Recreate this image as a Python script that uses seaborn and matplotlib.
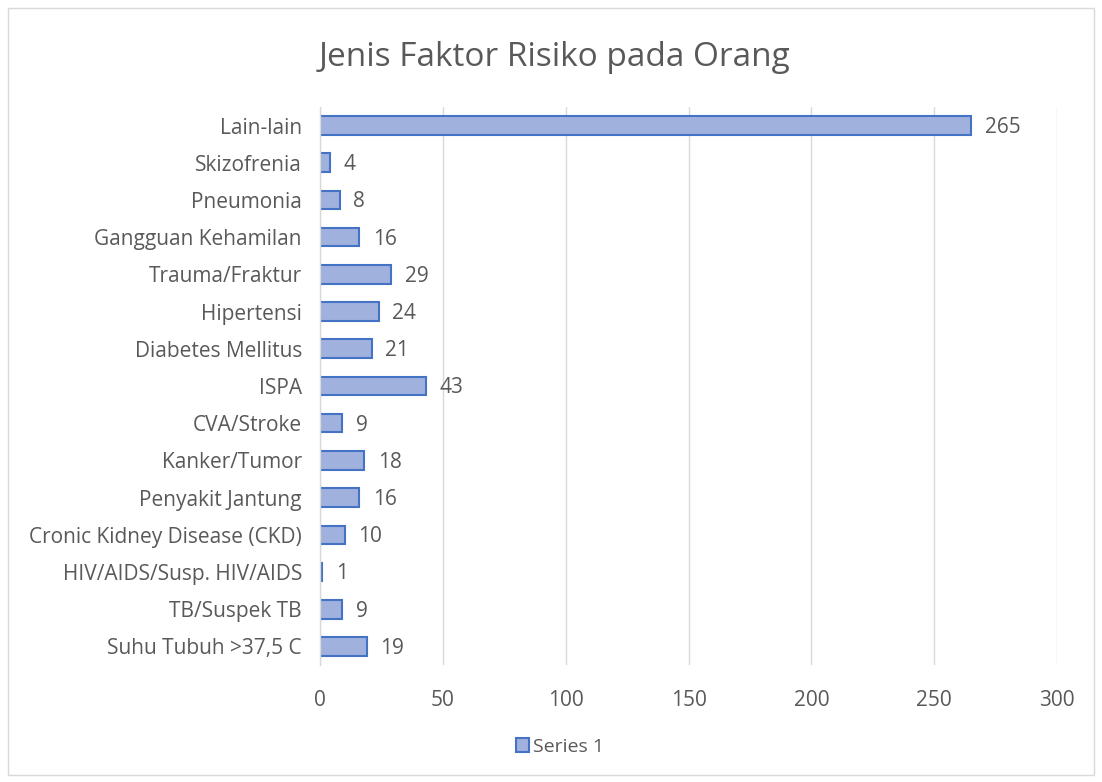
import pandas as pd
import seaborn as sns
import matplotlib.pyplot as plt
from matplotlib.patches import Rectangle, Patch

categories = ["Lain-lain", "Skizofrenia", "Pneumonia", "Gangguan Kehamilan",
              "Trauma/Fraktur", "Hipertensi", "Diabetes Mellitus", "ISPA",
              "CVA/Stroke", "Kanker/Tumor", "Penyakit Jantung",
              "Cronic Kidney Disease (CKD)", "HIV/AIDS/Susp. HIV/AIDS",
              "TB/Suspek TB", "Suhu Tubuh >37,5 C"]
values = [265, 4, 8, 16, 29, 24, 21, 43, 9, 18, 16, 10, 1, 9, 19]
xticks = [0, 50, 100, 150, 200, 250, 300]

df = pd.DataFrame({"kategori": categories, "jumlah": values})

sns.set_style("white")
plt.rcParams["font.family"] = ["Open Sans", "DejaVu Sans"]
text_color = "#595959"

fig = plt.figure(figsize=(11.02, 7.82), dpi=100)
ax = fig.add_axes([0.2904, 0.1496, 0.6688, 0.7136])

sns.barplot(data=df, x="jumlah", y="kategori", order=categories, orient="h",
            color="#A0B1DE", edgecolor="#4472C4", linewidth=1.5, width=0.5,
            saturation=1, ax=ax)

ax.set_xlim(0, 300)
ax.set_xticks(xticks)
ax.set_xticklabels([str(t) for t in xticks])
ax.grid(axis="x", color="#d9d9d9", linewidth=1)
ax.set_axisbelow(True)
for s in ["top", "right", "bottom"]:
    ax.spines[s].set_visible(False)
ax.spines["left"].set_color("#d9d9d9")
ax.spines["left"].set_linewidth(1)
ax.tick_params(axis="both", length=0, labelsize=15, colors=text_color)
ax.tick_params(axis="y", pad=13)
ax.tick_params(axis="x", pad=18)
ax.set_xlabel("")
ax.set_ylabel("")

for i, v in enumerate(values):
    ax.text(v + 5.5, i + 0.05, str(v), va="center", ha="left", fontsize=15, color=text_color)

fig.text(0.503, 0.927, "Jenis Faktor Risiko pada Orang", ha="center", va="center",
         fontsize=24, color=text_color)

handle = Patch(facecolor="#A0B1DE", edgecolor="#4472C4", linewidth=1.5)
fig.legend([handle], ["Series 1"], loc="center", bbox_to_anchor=(0.508, 0.045),
           frameon=False, fontsize=14, handlelength=0.7, handleheight=0.7,
           handletextpad=0.2, labelcolor=text_color)

fig.patches.append(Rectangle((0.007, 0.009), 0.986, 0.981, transform=fig.transFigure,
                             fill=False, edgecolor="#d9d9d9", linewidth=1))

plt.savefig("out.png", dpi=100)
